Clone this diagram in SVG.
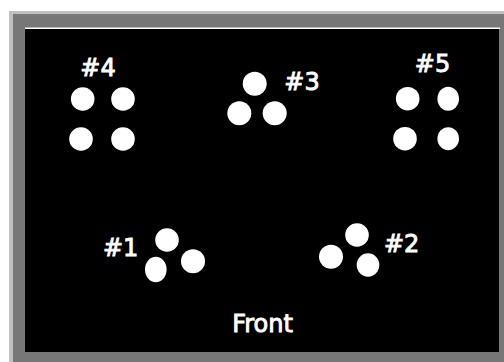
<svg xmlns="http://www.w3.org/2000/svg" width="504" height="362" viewBox="0 0 504 362">
<style>
.d{fill:#fff}
.t{fill:#fff;stroke:#fff;stroke-width:0.9px;font-family:"DejaVu Sans",sans-serif;font-size:24px;text-anchor:middle}
</style>
<rect x="0" y="0" width="504" height="362" fill="#fff"/>
<rect x="9" y="11" width="495" height="351" fill="#c0c0c0"/>
<rect x="13" y="14" width="491" height="348" fill="#777"/>
<rect x="25" y="27.5" width="475" height="1.5" fill="#fff"/>
<rect x="25" y="29" width="474" height="323" fill="#000"/>
<g id="pos4">
<circle class="d" cx="82.7" cy="99" r="11.8"/>
<circle class="d" cx="123" cy="99" r="11.8"/>
<circle class="d" cx="81" cy="139" r="11.8"/>
<circle class="d" cx="123" cy="139" r="11.8"/>
<text class="t" x="98" y="75.5">#4</text>
</g>
<g id="pos3">
<circle class="d" cx="254.7" cy="83.7" r="12"/>
<circle class="d" cx="239.3" cy="113.3" r="12"/>
<circle class="d" cx="274.7" cy="113.3" r="12"/>
<text class="t" x="302" y="89.5">#3</text>
</g>
<g id="pos5">
<circle class="d" cx="407.7" cy="98.7" r="11.8"/>
<ellipse class="d" cx="448.2" cy="98.7" rx="10.8" ry="12"/>
<circle class="d" cx="405" cy="138.7" r="11.8"/>
<ellipse class="d" cx="448.2" cy="138.7" rx="10.8" ry="11.5"/>
<text class="t" x="432.5" y="71.5">#5</text>
</g>
<g id="pos1">
<circle class="d" cx="167" cy="240" r="11.8"/>
<ellipse class="d" cx="155.8" cy="269.5" rx="10.8" ry="12.8"/>
<circle class="d" cx="193" cy="261.3" r="12"/>
<text class="t" x="120.7" y="256">#1</text>
</g>
<g id="pos2">
<circle class="d" cx="357" cy="235" r="11.8"/>
<circle class="d" cx="331" cy="256.7" r="12"/>
<ellipse class="d" cx="368" cy="265" rx="11.3" ry="11.7"/>
<text class="t" x="401.7" y="251.5">#2</text>
</g>
<g id="connectors"/>
<text class="t" x="262.5" y="331.7">Front</text>
</svg>
